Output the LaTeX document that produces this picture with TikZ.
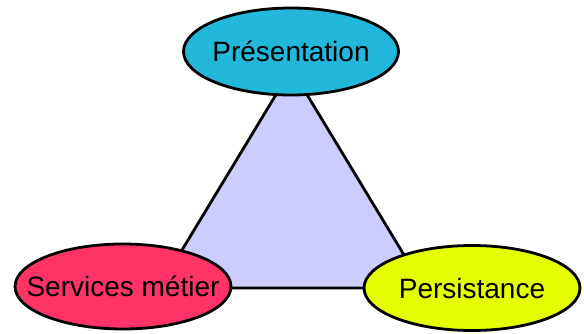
\documentclass[tikz,border=0pt]{standalone}
\usepackage{fontspec}
\setmainfont{Liberation Sans}
\usetikzlibrary{shapes.geometric}
\definecolor{cTop}{HTML}{22B8DC}
\definecolor{cLeft}{HTML}{FF3366}
\definecolor{cRight}{HTML}{E6FF00}
\definecolor{cTri}{HTML}{CCCCFF}
\begin{document}
\begin{tikzpicture}[x=1pt,y=1pt,
  bubble/.style={ellipse, draw=black, line width=2.8pt, minimum width=216pt, minimum height=85pt, inner sep=0pt, font=\fontsize{28}{32}\selectfont},
  tri/.style={fill=cTri, draw=black, line width=2.8pt, line join=round}]
\useasboundingbox (0,0) rectangle (584,333);
\coordinate (apex) at (291.5,264);
\coordinate (bl) at (159,45);
\coordinate (br) at (424,45);
\draw[tri] (apex) -- (bl) -- (br) -- cycle;
\node[bubble, fill=cTop, minimum width=215pt, minimum height=87pt] (pres) at (291,281.5) {\makebox[0pt]{Présentation}};
\node[bubble, fill=cLeft] (serv) at (123,46.5) {\makebox[0pt]{Services métier}};
\node[bubble, fill=cRight, minimum width=216pt] (pers) at (472,45) {\makebox[0pt]{Persistance}};
\end{tikzpicture}
\end{document}
